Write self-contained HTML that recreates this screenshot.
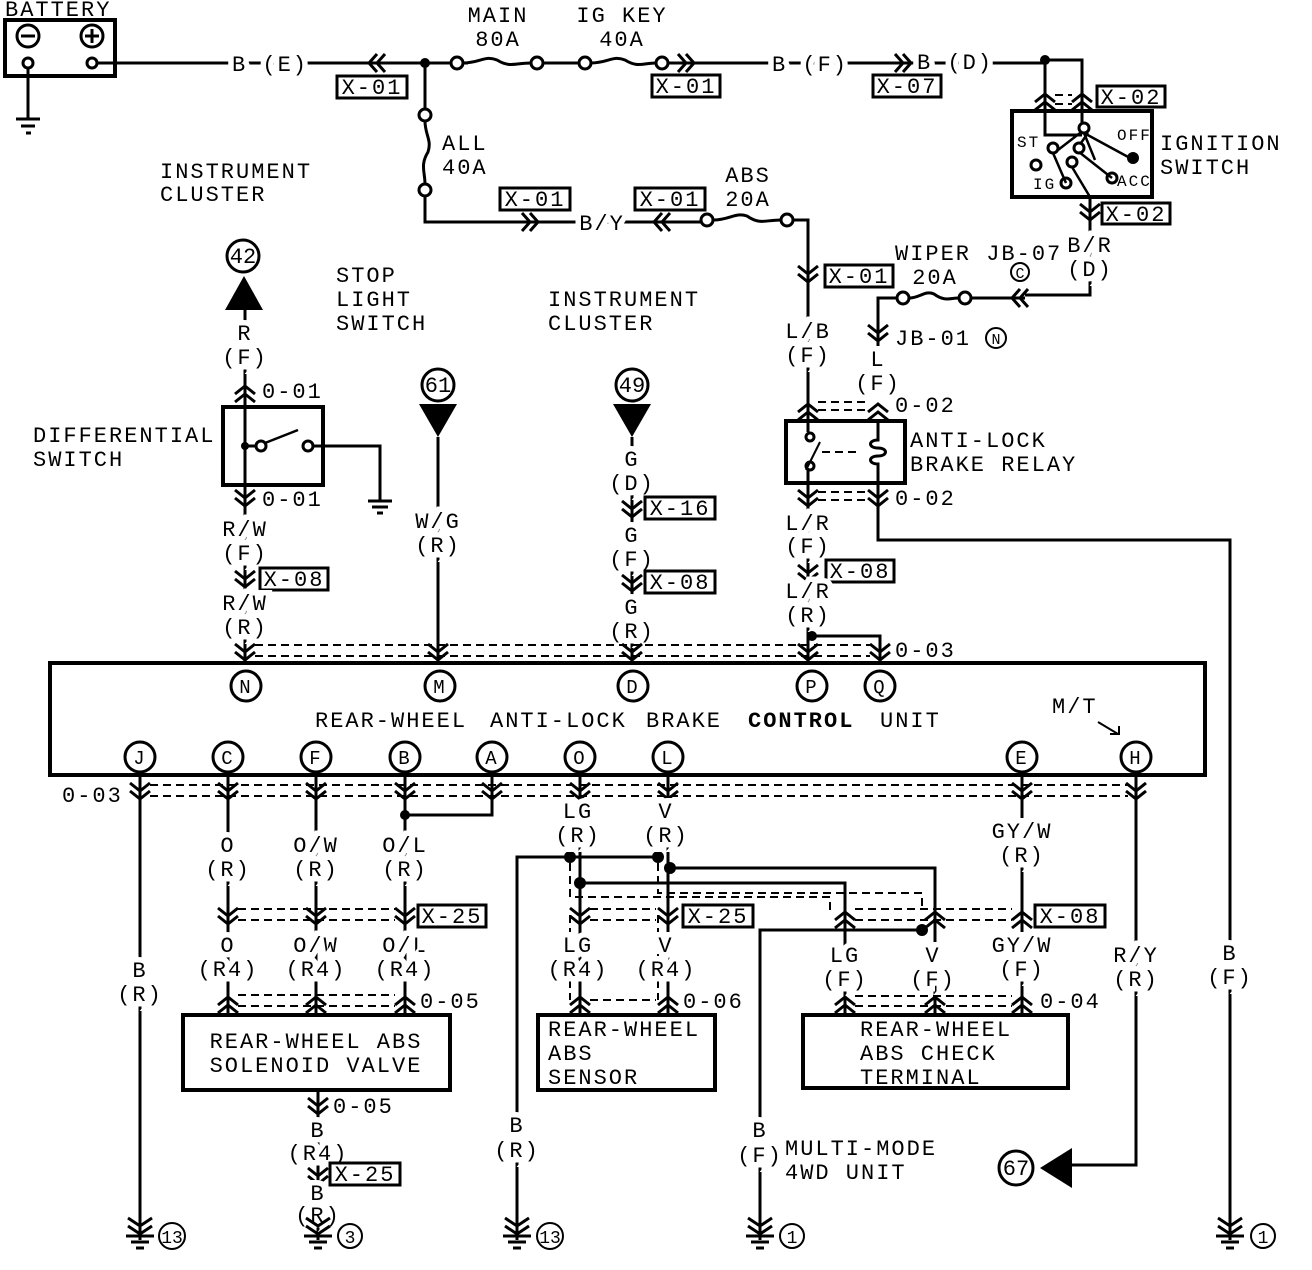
<!DOCTYPE html>
<html><head><meta charset="utf-8"><style>
html,body{margin:0;padding:0;background:#fff}
svg{display:block}
text{font-family:"Liberation Mono",monospace;font-size:22px;letter-spacing:2px;fill:#000;paint-order:stroke;stroke:#fff;stroke-width:6px}
text.m{text-anchor:middle;stroke-width:11px}
text.bt{stroke:none}
.w{stroke:#000;stroke-width:3;fill:none}
.d{stroke:#000;stroke-width:2;fill:none;stroke-dasharray:8 5}
.b{stroke:#000;stroke-width:3;fill:#fff}
</style></head><body>
<svg width="1312" height="1270" viewBox="0 0 1312 1270" xmlns="http://www.w3.org/2000/svg">
<defs>
<path id="cd" d="M-10,-10 L0,-2 L10,-10 M-10,-2 L0,6 L10,-2" stroke="#000" stroke-width="3" fill="none"/>
<path id="cu" d="M-10,10 L0,2 L10,10 M-10,2 L0,-6 L10,2" stroke="#000" stroke-width="3" fill="none"/>
<path id="cr" d="M-10,-9 L-2,0 L-10,9 M-2,-9 L6,0 L-2,9" stroke="#000" stroke-width="3" fill="none"/>
<path id="cl" d="M10,-9 L2,0 L10,9 M2,-9 L-6,0 L2,9" stroke="#000" stroke-width="3" fill="none"/>
<g id="gnd"><path d="M-12,-14 L0,-6 L12,-14 M-12,-6 L0,2 L12,-6" stroke="#000" stroke-width="3" fill="none"/><path d="M-14,4 H14 M-9,10 H9 M-4,16 H4" stroke="#000" stroke-width="3"/></g>
</defs>

<!-- BATTERY -->
<text x="5" y="16" class="bt">BATTERY</text>
<rect x="5" y="20" width="110" height="56" class="w" style="stroke-width:4"/>
<circle cx="28" cy="36" r="11" class="w"/><path d="M21,36H35" class="w"/>
<circle cx="92" cy="36" r="11" class="w"/><path d="M85,36H99M92,29V43" class="w"/>
<circle cx="28" cy="63" r="5" class="w"/><circle cx="92" cy="63" r="5" class="w"/>
<path d="M28,68V118M16,119H40M21,126H35M26,133H31" class="w"/>
<path d="M97,63H425" class="w"/>
<text x="270" y="71" class="m">B (E)</text>
<use href="#cl" x="375" y="63"/>
<rect x="337" y="76" width="70" height="22" class="b"/><text x="372" y="94" class="m bt">X-01</text>
<circle cx="425" cy="63" r="5"/>
<path d="M425,63H452M462,63H468" class="w"/>
<circle cx="457" cy="63" r="6" class="b"/>
<path d="M463,63 C480,63 485,55 497,60 C510,68 515,63 531,63" class="w"/>
<circle cx="537" cy="63" r="6" class="b"/>
<path d="M543,63H579" class="w"/>
<circle cx="585" cy="63" r="6" class="b"/>
<path d="M591,63 C608,63 613,55 625,60 C638,68 643,63 656,63" class="w"/>
<circle cx="662" cy="63" r="6" class="b"/>
<text x="498" y="22" class="m bt">MAIN</text><text x="498" y="46" class="m bt">80A</text>
<text x="622" y="22" class="m bt">IG KEY</text><text x="622" y="46" class="m bt">40A</text>
<path d="M668,63H1045" class="w"/>
<use href="#cr" x="688" y="63"/>
<rect x="652" y="75" width="68" height="22" class="b"/><text x="686" y="93" class="m bt">X-01</text>
<text x="810" y="71" class="m">B (F)</text>
<use href="#cr" x="905" y="63"/>
<text x="955" y="69" class="m">B (D)</text>
<rect x="873" y="75" width="68" height="22" class="b"/><text x="907" y="93" class="m bt">X-07</text>
<circle cx="1045" cy="60" r="5"/>
<path d="M1045,60H1082V125M1045,60V125" class="w"/>
<use href="#cu" x="1045" y="100"/><use href="#cu" x="1082" y="100"/>
<path d="M1055,95H1072M1055,104H1072" class="d"/>
<rect x="1097" y="86" width="68" height="21" class="b"/><text x="1131" y="104" class="m bt">X-02</text>
<rect x="1012" y="111" width="140" height="86" class="w" style="stroke-width:4"/>
<path d="M1045,111V135H1082" class="w"/>
<circle cx="1084" cy="128" r="5" class="b"/>
<path d="M1084,133L1130,158M1080,133L1058,150M1088,133L1076,150M1084,133L1095,160" class="w" style="stroke-width:2.5"/>
<circle cx="1133" cy="158" r="6"/>
<circle cx="1053" cy="148" r="5" class="b"/><circle cx="1036" cy="165" r="5" class="b"/>
<circle cx="1079" cy="148" r="5" class="b"/><circle cx="1072" cy="162" r="5" class="b"/>
<circle cx="1066" cy="183" r="5" class="b"/><circle cx="1112" cy="178" r="5" class="b"/>
<path d="M1079,152L1112,178M1053,153L1066,183M1072,167L1090,197" class="w" style="stroke-width:2.5"/>
<text x="1017" y="147" class="bt" style="font-size:16px">ST</text>
<text x="1117" y="140" class="bt" style="font-size:16px">OFF</text>
<text x="1033" y="189" class="bt" style="font-size:16px">IG</text>
<text x="1117" y="186" class="bt" style="font-size:16px">ACC</text>
<text x="1160" y="150" class="bt">IGNITION</text><text x="1160" y="174" class="bt">SWITCH</text>
<path d="M1090,197V295H1025" class="w"/>
<use href="#cd" x="1090" y="214"/>
<rect x="1102" y="203" width="68" height="21" class="b"/><text x="1136" y="221" class="m bt">X-02</text>
<text x="1090" y="252" class="m">B/R</text><text x="1090" y="276" class="m">(D)</text>
<path d="M1025,298H971" class="w"/>
<use href="#cl" x="1018" y="298"/>
<circle cx="1020" cy="272" r="9" class="w" style="stroke-width:2"/><text x="1020" y="278" class="m bt" style="font-size:15px;letter-spacing:0">C</text>
<text x="895" y="260" class="bt">WIPER JB-07</text>
<text x="935" y="284" class="m bt">20A</text>
<circle cx="903" cy="298" r="6" class="b"/><circle cx="965" cy="298" r="6" class="b"/>
<path d="M909,298 C920,298 925,290 934,294 C945,302 950,298 959,298" class="w"/>
<path d="M897,298H878V395" class="w"/>
<use href="#cd" x="878" y="335"/>
<text x="895" y="345" class="bt">JB-01</text>
<circle cx="996" cy="338" r="10" class="w" style="stroke-width:2"/><text x="996" y="344" class="m bt" style="font-size:15px;letter-spacing:0">N</text>
<text x="878" y="366" class="m">L</text><text x="878" y="390" class="m">(F)</text>

<path d="M425,63V109" class="w"/>
<circle cx="425" cy="115" r="6" class="b"/>
<path d="M425,121 C425,135 432,140 428,152 C420,165 425,172 425,184" class="w"/>
<circle cx="425" cy="190" r="6" class="b"/>
<path d="M425,196V222H701" class="w"/>
<text x="442" y="150" class="bt">ALL</text><text x="442" y="174" class="bt">40A</text>
<use href="#cr" x="532" y="222"/>
<rect x="500" y="188" width="70" height="22" class="b"/><text x="535" y="206" class="m bt">X-01</text>
<text x="602" y="230" class="m">B/Y</text>
<use href="#cl" x="660" y="222"/>
<rect x="635" y="188" width="70" height="22" class="b"/><text x="670" y="206" class="m bt">X-01</text>
<circle cx="707" cy="220" r="6" class="b"/><circle cx="787" cy="220" r="6" class="b"/>
<path d="M713,220 C730,220 735,212 747,216 C760,225 765,220 781,220" class="w"/>
<text x="748" y="182" class="m bt">ABS</text><text x="748" y="206" class="m bt">20A</text>
<path d="M793,220H808V420" class="w"/>
<use href="#cd" x="808" y="276"/>
<rect x="825" y="265" width="68" height="22" class="b"/><text x="859" y="283" class="m bt">X-01</text>
<text x="808" y="338" class="m">L/B</text><text x="808" y="362" class="m">(F)</text>

<use href="#cu" x="808" y="410"/><use href="#cu" x="878" y="410"/>
<path d="M818,402H868M818,410H868" class="d"/>
<text x="895" y="412" class="bt">0-02</text>
<rect x="786" y="421" width="119" height="62" class="w" style="stroke-width:4"/>
<path d="M808,421V432M808,470V483" class="w"/>
<circle cx="810" cy="437" r="4" class="b"/><circle cx="810" cy="466" r="4" class="b"/>
<path d="M806,470L820,442" class="w" style="stroke-width:2"/>
<path d="M822,452H860" class="d"/>
<path d="M878,421V440 C868,440 868,448 878,448 C888,448 888,456 878,456 C868,456 868,464 878,464V483" class="w"/>
<text x="910" y="447" class="bt">ANTI-LOCK</text><text x="910" y="471" class="bt">BRAKE RELAY</text>
<use href="#cd" x="808" y="500"/><use href="#cd" x="878" y="500"/>
<path d="M818,492H868M818,500H868" class="d"/>
<text x="895" y="505" class="bt">0-02</text>
<path d="M878,483V540H1230V1240" class="w"/>
<text x="1230" y="960" class="m">B</text><text x="1230" y="984" class="m">(F)</text>
<use href="#gnd" x="1230" y="1232"/>
<circle cx="1263" cy="1236" r="12" class="w" style="stroke-width:2"/><text x="1263" y="1243" class="m bt" style="font-size:18px;letter-spacing:0">1</text>

<path d="M808,483V663" class="w"/>
<text x="808" y="530" class="m">L/R</text><text x="808" y="553" class="m">(F)</text>
<use href="#cd" x="808" y="575"/>
<rect x="826" y="560" width="68" height="22" class="b"/><text x="860" y="578" class="m bt">X-08</text>
<text x="808" y="598" class="m">L/R</text><text x="808" y="622" class="m">(R)</text>
<circle cx="812" cy="636" r="5"/>
<path d="M812,636H880V663" class="w"/>

<text x="160" y="178" class="bt">INSTRUMENT</text><text x="160" y="201" class="bt">CLUSTER</text>
<text x="336" y="282" class="bt">STOP</text><text x="336" y="306" class="bt">LIGHT</text><text x="336" y="330" class="bt">SWITCH</text>
<text x="548" y="306" class="bt">INSTRUMENT</text><text x="548" y="330" class="bt">CLUSTER</text>

<circle cx="243" cy="256" r="16" class="w"/><text x="243" y="263" class="m bt" style="letter-spacing:0">42</text>
<path d="M225,310H263L244,276Z"/>
<path d="M245,310V663" class="w"/>
<text x="245" y="340" class="m">R</text><text x="245" y="364" class="m">(F)</text>
<use href="#cu" x="245" y="392"/>
<text x="262" y="398" class="bt">0-01</text>
<text x="33" y="442" class="bt">DIFFERENTIAL</text><text x="33" y="466" class="bt">SWITCH</text>
<rect x="223" y="407" width="100" height="78" class="w" style="stroke-width:4;fill:#fff"/>
<path d="M245,407V485" class="w"/>
<circle cx="245" cy="446" r="4"/>
<path d="M245,446H256" class="w"/>
<circle cx="261" cy="446" r="5" class="b"/>
<path d="M265,443L298,430" class="w" style="stroke-width:2.5"/>
<circle cx="308" cy="446" r="5" class="b"/>
<path d="M313,446H380V500M368,501H392M372,507H388M377,513H383" class="w"/>
<use href="#cd" x="245" y="500"/>
<text x="262" y="506" class="bt">0-01</text>
<text x="245" y="536" class="m">R/W</text><text x="245" y="560" class="m">(F)</text>
<use href="#cd" x="245" y="581"/>
<rect x="260" y="568" width="68" height="22" class="b"/><text x="294" y="586" class="m bt">X-08</text>
<text x="245" y="610" class="m">R/W</text><text x="245" y="634" class="m">(R)</text>

<circle cx="438" cy="385" r="16" class="w"/><text x="438" y="392" class="m bt" style="letter-spacing:0">61</text>
<path d="M419,404H457L438,437Z"/>
<path d="M438,437V663" class="w"/>
<text x="438" y="528" class="m">W/G</text><text x="438" y="552" class="m">(R)</text>
<circle cx="632" cy="385" r="16" class="w"/><text x="632" y="392" class="m bt" style="letter-spacing:0">49</text>
<path d="M613,404H651L632,437Z"/>
<path d="M632,437V663" class="w"/>
<text x="632" y="466" class="m">G</text><text x="632" y="490" class="m">(D)</text>
<use href="#cd" x="632" y="511"/>
<rect x="645" y="497" width="70" height="22" class="b"/><text x="680" y="515" class="m bt">X-16</text>
<text x="632" y="542" class="m">G</text><text x="632" y="566" class="m">(F)</text>
<use href="#cd" x="632" y="585"/>
<rect x="645" y="571" width="70" height="22" class="b"/><text x="680" y="589" class="m bt">X-08</text>
<text x="632" y="614" class="m">G</text><text x="632" y="638" class="m">(R)</text>

<path d="M255,645H870M255,656H870" class="d"/>
<use href="#cd" x="245" y="654"/><use href="#cd" x="438" y="654"/><use href="#cd" x="632" y="654"/><use href="#cd" x="808" y="654"/><use href="#cd" x="880" y="654"/>
<text x="895" y="657" class="bt">0-03</text>

<rect x="50" y="663" width="1155" height="112" class="w" style="stroke-width:4"/>
<g>
<circle cx="246" cy="686" r="15" class="b"/><circle cx="440" cy="686" r="15" class="b"/><circle cx="633" cy="686" r="15" class="b"/><circle cx="812" cy="686" r="15" class="b"/><circle cx="880" cy="686" r="15" class="b"/>
<circle cx="140" cy="757" r="15" class="b"/><circle cx="228" cy="757" r="15" class="b"/><circle cx="316" cy="757" r="15" class="b"/><circle cx="405" cy="757" r="15" class="b"/><circle cx="492" cy="757" r="15" class="b"/><circle cx="580" cy="757" r="15" class="b"/><circle cx="668" cy="757" r="15" class="b"/><circle cx="1022" cy="757" r="15" class="b"/><circle cx="1136" cy="757" r="15" class="b"/>
</g>
<text x="246" y="693" class="m bt" style="font-size:19px">N</text><text x="440" y="693" class="m bt" style="font-size:19px">M</text><text x="633" y="693" class="m bt" style="font-size:19px">D</text><text x="812" y="693" class="m bt" style="font-size:19px">P</text><text x="880" y="693" class="m bt" style="font-size:19px">Q</text>
<text x="140" y="764" class="m bt" style="font-size:19px">J</text><text x="228" y="764" class="m bt" style="font-size:19px">C</text><text x="316" y="764" class="m bt" style="font-size:19px">F</text><text x="405" y="764" class="m bt" style="font-size:19px">B</text><text x="492" y="764" class="m bt" style="font-size:19px">A</text><text x="580" y="764" class="m bt" style="font-size:19px">O</text><text x="668" y="764" class="m bt" style="font-size:19px">L</text><text x="1022" y="764" class="m bt" style="font-size:19px">E</text><text x="1136" y="764" class="m bt" style="font-size:19px">H</text>
<text x="315" y="727" class="bt">REAR-WHEEL</text>
<text x="490" y="727" class="bt">ANTI-LOCK</text>
<text x="646" y="727" class="bt">BRAKE</text>
<text x="748" y="727" class="bt" style="font-weight:bold">CONTROL</text>
<text x="880" y="727" class="bt">UNIT</text>
<text x="1052" y="713" class="bt">M/T</text>
<path d="M1098,722L1118,734M1110,734H1119V726" class="w" style="stroke-width:2"/>

<path d="M150,785H1128M150,796H1128" class="d"/>
<text x="62" y="802" class="bt">0-03</text>
<path d="M140,772V1240M228,772V1015M316,772V1015M405,772V1015M492,772V815H405M580,772V1015M668,772V1015M1022,772V1015M1136,772V1165H1072" class="w"/>
<circle cx="405" cy="815" r="5"/>
<use href="#cd" x="140" y="793"/><use href="#cd" x="228" y="793"/><use href="#cd" x="316" y="793"/><use href="#cd" x="405" y="793"/><use href="#cd" x="492" y="793"/><use href="#cd" x="580" y="793"/><use href="#cd" x="668" y="793"/><use href="#cd" x="1022" y="793"/><use href="#cd" x="1136" y="793"/>

<text x="140" y="977" class="m">B</text><text x="140" y="1001" class="m">(R)</text>
<use href="#gnd" x="140" y="1232"/>
<circle cx="172" cy="1236" r="13" class="w" style="stroke-width:2"/><text x="172" y="1243" class="m bt" style="font-size:18px;letter-spacing:0">13</text>

<text x="228" y="852" class="m">O</text><text x="228" y="876" class="m">(R)</text>
<text x="316" y="852" class="m">O/W</text><text x="316" y="876" class="m">(R)</text>
<text x="405" y="852" class="m">O/L</text><text x="405" y="876" class="m">(R)</text>
<path d="M238,909H395M238,920H395" class="d"/>
<use href="#cd" x="228" y="918"/><use href="#cd" x="316" y="918"/><use href="#cd" x="405" y="918"/>
<rect x="418" y="905" width="68" height="22" class="b"/><text x="452" y="923" class="m bt">X-25</text>
<text x="228" y="952" class="m">O</text><text x="228" y="976" class="m">(R4)</text>
<text x="316" y="952" class="m">O/W</text><text x="316" y="976" class="m">(R4)</text>
<text x="405" y="952" class="m">O/L</text><text x="405" y="976" class="m">(R4)</text>
<path d="M238,995H395M238,1006H395" class="d"/>
<use href="#cu" x="228" y="1003"/><use href="#cu" x="316" y="1003"/><use href="#cu" x="405" y="1003"/>
<text x="420" y="1008" class="bt">0-05</text>
<rect x="183" y="1015" width="267" height="75" class="w" style="stroke-width:4"/>
<text x="316" y="1048" class="m bt">REAR-WHEEL ABS</text><text x="316" y="1072" class="m bt">SOLENOID VALVE</text>
<path d="M318,1090V1240" class="w"/>
<use href="#cd" x="318" y="1108"/>
<text x="333" y="1113" class="bt">0-05</text>
<text x="318" y="1137" class="m">B</text><text x="318" y="1160" class="m">(R4)</text>
<use href="#cd" x="318" y="1178"/>
<rect x="330" y="1163" width="70" height="22" class="b"/><text x="365" y="1181" class="m bt">X-25</text>
<text x="318" y="1200" class="m">B</text><text x="318" y="1222" class="m">(R)</text>
<use href="#gnd" x="318" y="1232"/>
<circle cx="350" cy="1236" r="12" class="w" style="stroke-width:2"/><text x="350" y="1243" class="m bt" style="font-size:18px;letter-spacing:0">3</text>

<path d="M517,1240V857H658M670,868H935V1015M580,883H845V1015M760,1240V930H922" class="w"/>
<circle cx="570" cy="857" r="6"/><circle cx="658" cy="857" r="6"/><circle cx="670" cy="868" r="6"/><circle cx="580" cy="883" r="6"/><circle cx="922" cy="930" r="6"/>
<path d="M570,863V897H830V910M658,863V893H922V910M570,915V1000M658,915V1000" class="d"/>
<text x="578" y="818" class="m">LG</text><text x="578" y="842" class="m">(R)</text>
<text x="666" y="818" class="m">V</text><text x="666" y="842" class="m">(R)</text>
<path d="M590,909H656M590,920H656" class="d"/>
<use href="#cd" x="580" y="918"/><use href="#cd" x="668" y="918"/>
<rect x="683" y="905" width="70" height="22" class="b"/><text x="718" y="923" class="m bt">X-25</text>
<text x="578" y="952" class="m">LG</text><text x="578" y="976" class="m">(R4)</text>
<text x="666" y="952" class="m">V</text><text x="666" y="976" class="m">(R4)</text>
<path d="M590,1000H656" class="d"/>
<use href="#cu" x="580" y="1003"/><use href="#cu" x="668" y="1003"/>
<text x="683" y="1008" class="bt">0-06</text>
<rect x="538" y="1015" width="177" height="75" class="w" style="stroke-width:4"/>
<text x="548" y="1036" class="bt">REAR-WHEEL</text><text x="548" y="1060" class="bt">ABS</text><text x="548" y="1084" class="bt">SENSOR</text>
<text x="517" y="1132" class="m">B</text><text x="517" y="1157" class="m">(R)</text>
<use href="#gnd" x="517" y="1232"/>
<circle cx="550" cy="1236" r="13" class="w" style="stroke-width:2"/><text x="550" y="1243" class="m bt" style="font-size:18px;letter-spacing:0">13</text>

<text x="1022" y="838" class="m">GY/W</text><text x="1022" y="862" class="m">(R)</text>
<path d="M855,909H1012M855,920H1012" class="d"/>
<use href="#cu" x="845" y="918"/><use href="#cu" x="935" y="918"/><use href="#cu" x="1022" y="918"/>
<rect x="1035" y="905" width="70" height="22" class="b"/><text x="1070" y="923" class="m bt">X-08</text>
<text x="845" y="962" class="m">LG</text><text x="845" y="986" class="m">(F)</text>
<text x="933" y="962" class="m">V</text><text x="933" y="986" class="m">(F)</text>
<text x="1022" y="952" class="m">GY/W</text><text x="1022" y="976" class="m">(F)</text>
<path d="M855,996H1012M855,1006H1012" class="d"/>
<use href="#cu" x="845" y="1003"/><use href="#cu" x="935" y="1003"/><use href="#cu" x="1022" y="1003"/>
<text x="1040" y="1008" class="bt">0-04</text>
<rect x="803" y="1015" width="265" height="73" class="w" style="stroke-width:4"/>
<text x="860" y="1036" class="bt">REAR-WHEEL</text><text x="860" y="1060" class="bt">ABS CHECK</text><text x="860" y="1084" class="bt">TERMINAL</text>
<text x="760" y="1137" class="m">B</text><text x="760" y="1162" class="m">(F)</text>
<text x="785" y="1155" class="bt">MULTI-MODE</text><text x="785" y="1179" class="bt">4WD UNIT</text>
<use href="#gnd" x="760" y="1232"/>
<circle cx="792" cy="1236" r="12" class="w" style="stroke-width:2"/><text x="792" y="1243" class="m bt" style="font-size:18px;letter-spacing:0">1</text>

<text x="1136" y="962" class="m">R/Y</text><text x="1136" y="986" class="m">(R)</text>
<path d="M1072,1148V1188L1040,1168Z"/>
<circle cx="1016" cy="1168" r="17" class="w" style="stroke-width:3"/><text x="1016" y="1175" class="m bt" style="letter-spacing:0">67</text>
</svg>
</body></html>
